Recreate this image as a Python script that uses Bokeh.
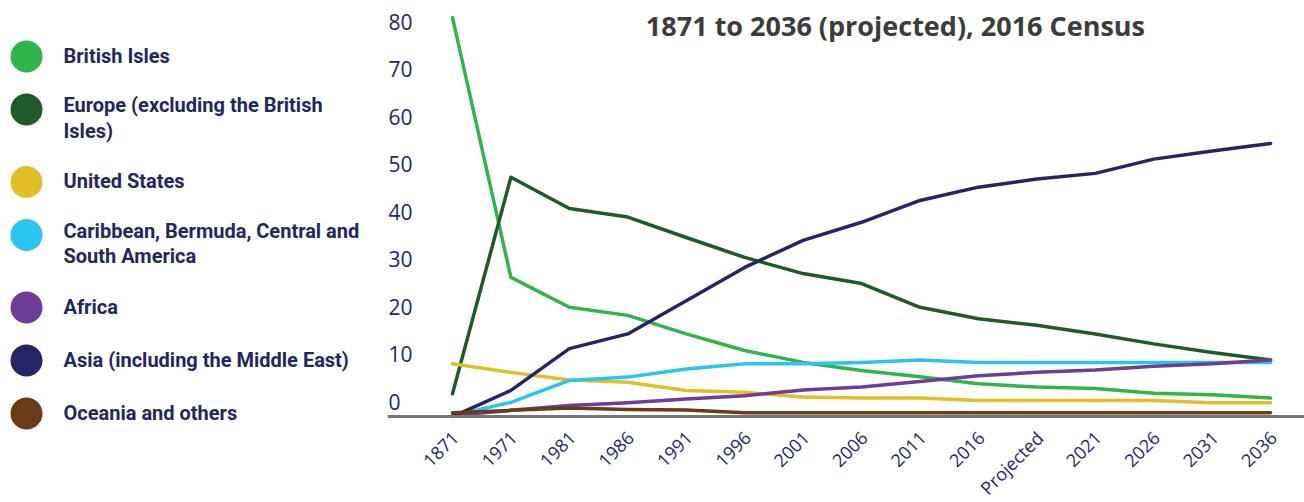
import math
from bokeh.plotting import figure
from bokeh.layouts import row
from bokeh.models import Range1d, Span, Label
from bokeh.embed import file_html
from bokeh.resources import INLINE
from bokeh.core.properties import value

categories = ["1871", "1971", "1981", "1986", "1991", "1996", "2001", "2006",
              "2011", "2016", "Projected", "2021", "2026", "2031", "2036"]

british_isles = [84.0, 29.3, 23.0, 21.3, 17.4, 13.9, 11.4, 9.7, 8.4, 6.9, 6.2, 5.9, 4.9, 4.6, 3.9]
europe = [4.8, 50.4, 43.8, 42.0, 37.7, 33.5, 30.1, 28.0, 23.0, 20.6, 19.2, 17.4, 15.3, 13.5, 11.9]
united_states = [11.1, 9.3, 7.7, 7.2, 5.5, 5.1, 4.1, 3.9, 3.9, 3.4, 3.4, 3.4, 3.4, 2.9, 2.9]
caribbean = [0.2, 3.0, 7.6, 8.3, 10.0, 11.1, 11.1, 11.4, 11.9, 11.4, 11.4, 11.4, 11.4, 11.4, 11.4]
africa = [0.2, 1.3, 2.3, 2.9, 3.7, 4.4, 5.6, 6.2, 7.4, 8.6, 9.3, 9.8, 10.6, 11.1, 11.9]
asia = [0.0, 5.5, 14.3, 17.4, 24.4, 31.4, 37.1, 40.9, 45.5, 48.3, 50.0, 51.2, 54.2, 55.9, 57.5]
oceania = [0.8, 1.3, 1.8, 1.5, 1.4, 0.8, 0.8, 0.8, 0.8, 0.8, 0.8, 0.8, 0.8, 0.8, 0.8]

series_names = ["British Isles", "Europe (excluding the British\nIsles)", "United States",
                "Caribbean, Bermuda, Central and\nSouth America", "Africa",
                "Asia (including the Middle East)", "Oceania and others"]
series_values = [british_isles, europe, united_states, caribbean, africa, asia, oceania]
series_colors = ["#31b44b", "#1f5a2b", "#e2bf26", "#29c4f0", "#6e3d97", "#262466", "#6b3a17"]

y_ticks = [0, 10, 20, 30, 40, 50, 60, 70, 80]
y_tick_labels = [str(t) for t in y_ticks]

title_text = "1871 to 2036 (projected), 2016 Census"

NAVY = "#24275e"
H = 502

# ---------------- legend panel ----------------
leg = figure(width=372, height=H, x_range=Range1d(0, 372), y_range=Range1d(H, 0),
             output_backend="svg", toolbar_location=None, min_border=0)
leg.axis.visible = False
leg.grid.visible = False
leg.outline_line_color = None

ys = []
cur = 56.0
for name in series_names:
    ys.append(cur)
    cur += 53 + 19.5 * name.count("\n")
nlines = [n.count("\n") + 1 for n in series_names]
text_ys = [y - 1 + 9.5 * (k - 1) for y, k in zip(ys, nlines)]

leg.scatter(x=[26] * len(ys), y=ys, size=32, marker="circle",
            fill_color=series_colors, line_color=None)
leg.text(x=[63] * len(ys), y=text_ys, text=series_names,
         text_font=value("Roboto"), text_font_style="bold", text_font_size="20px",
         text_color=NAVY, text_align="left", text_baseline="middle",
         text_line_height=1.07)

# ---------------- main chart ----------------
xs = list(range(len(categories)))
p = figure(width=932, height=H, x_range=Range1d(-1.112, 14.58),
           y_range=Range1d(-18.1, 87.6), output_backend="svg", toolbar_location=None,
           min_border_left=15, min_border_right=0, min_border_top=0, min_border_bottom=0)
p.grid.visible = False
p.outline_line_color = None
p.axis.visible = False

p.add_layout(Span(location=0, dimension="width", line_color="#777777", line_width=3))

for vals, col in zip(series_values, series_colors):
    p.line(xs, vals, line_color=col, line_width=3.5, line_join="round", line_cap="round")

# y tick labels (sit just above their value)
p.text(x=[0] * len(y_ticks), y=y_ticks, text=y_tick_labels, x_offset=-64, y_offset=-15,
       text_font=value("Open Sans"), text_font_size="21px", text_color=NAVY,
       text_align="left", text_baseline="alphabetic")

# x tick labels, rotated
p.text(x=xs, y=[0] * len(xs), text=categories, angle=math.pi / 4,
       x_offset=3, y_offset=18, text_font=value("Open Sans"), text_font_size="18px",
       text_color=NAVY, text_align="right", text_baseline="middle")

p.add_layout(Label(x=7.58, y=82.3, text=title_text, text_align="center",
                   text_baseline="middle", text_font="Open Sans", text_font_style="bold",
                   text_font_size="27px", text_color="#3c3c3c"))

layout = row(leg, p, spacing=0)
open("out.html", "w").write(file_html(layout, INLINE))
